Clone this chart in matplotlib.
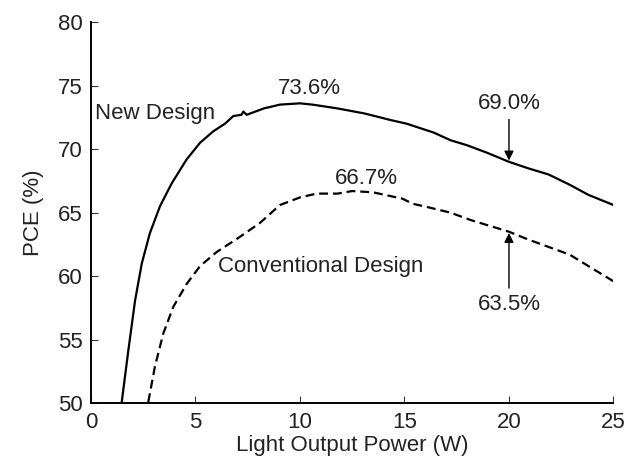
import matplotlib
matplotlib.use('Agg')
import matplotlib.pyplot as plt

plt.rcParams['font.family'] = ['Liberation Sans', 'DejaVu Sans']

# New Design curve
new_x = [1.47, 1.79, 2.11, 2.43, 2.82, 3.30, 3.86, 4.58, 5.22, 5.85, 6.41, 6.81,
         7.2, 7.29, 7.45, 8.27, 9.04, 10.0, 10.6, 11.8, 13.1, 14.3, 15.1, 16.4,
         17.2, 18.0, 18.97, 20.0, 20.9, 21.9, 22.9, 23.8, 25.0]
new_y = [50.1, 54.2, 58.1, 61.0, 63.4, 65.5, 67.3, 69.2, 70.5, 71.4, 72.0, 72.6,
         72.7, 72.95, 72.7, 73.2, 73.5, 73.6, 73.5, 73.2, 72.8, 72.3, 72.0, 71.3,
         70.7, 70.3, 69.7, 69.0, 68.5, 68.0, 67.2, 66.4, 65.6]

# Conventional Design curve
conv_x = [2.74, 3.06, 3.46, 3.94, 4.58, 5.22, 6.01, 7.13, 8.09, 9.04, 10.0, 10.8,
          11.8, 12.5, 13.5, 14.9, 15.4, 16.2, 17.2, 18.2, 20.0, 20.9, 21.9,
          22.9, 23.8, 25.0]
conv_y = [50.1, 52.9, 55.5, 57.6, 59.4, 60.8, 61.9, 63.1, 64.2, 65.6, 66.2, 66.5,
          66.5, 66.7, 66.6, 66.1, 65.7, 65.4, 65.0, 64.4, 63.5, 62.9, 62.3,
          61.7, 60.8, 59.6]

xticks = [0, 5, 10, 15, 20, 25]
yticks = [50, 55, 60, 65, 70, 75, 80]

fs = 16
tc = '#222222'

fig = plt.figure(figsize=(6.35, 4.68), dpi=100)
ax = fig.add_axes([0.1433, 0.1382, 0.8228, 0.8148])

ax.plot(new_x, new_y, color='black', lw=1.6)
ax.plot(conv_x, conv_y, color='black', lw=1.6, linestyle=(0, (4, 2.2)))

ax.set_xlim(0, 25)
ax.set_ylim(50, 80)
ax.set_xticks(xticks)
ax.set_yticks(yticks)
ax.spines['top'].set_visible(False)
ax.spines['right'].set_visible(False)
ax.spines['left'].set_linewidth(1.4)
ax.spines['bottom'].set_linewidth(1.4)
ax.tick_params(direction='in', length=5, width=0.8, labelsize=fs, pad=6,
               colors='#333333', labelcolor=tc)

ax.set_xlabel('Light Output Power (W)', fontsize=fs, color=tc, labelpad=2)
ax.set_ylabel('PCE (%)', fontsize=fs, color=tc, labelpad=10)

ax.text(10.45, 74.8, '73.6%', ha='center', va='center', fontsize=fs, color=tc)
ax.text(0.2, 72.8, 'New Design', ha='left', va='center', fontsize=fs, color=tc)
ax.text(13.2, 67.7, '66.7%', ha='center', va='center', fontsize=fs, color=tc)
ax.text(6.1, 60.8, 'Conventional Design', ha='left', va='center', fontsize=fs, color=tc)

ax.annotate('69.0%', xy=(20, 69.1), xytext=(20, 73.6), ha='center', va='center',
            fontsize=fs, color=tc,
            arrowprops=dict(arrowstyle='-|>', color='black', lw=1,
                            mutation_scale=14, shrinkA=2, shrinkB=0))
ax.annotate('63.5%', xy=(20, 63.4), xytext=(20, 57.8), ha='center', va='center',
            fontsize=fs, color=tc,
            arrowprops=dict(arrowstyle='-|>', color='black', lw=1,
                            mutation_scale=14, shrinkA=2, shrinkB=0))

fig.savefig('out.png', dpi=100)
